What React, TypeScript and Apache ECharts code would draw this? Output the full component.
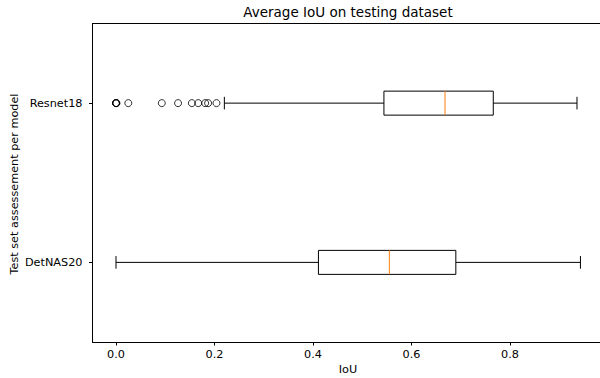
import React, { useEffect, useRef } from "react";
import * as echarts from "echarts";

const categories = ["DetNAS20", "Resnet18"];
// [min whisker, q1, median, q3, max whisker] per category (same order as categories)
const boxStats = [
  [0.0, 0.411, 0.555, 0.69, 0.943],
  [0.22, 0.544, 0.668, 0.766, 0.936],
];
const resnetOutliers = [0.0, 0.0, 0.0, 0.001, 0.025, 0.093, 0.126, 0.154, 0.167, 0.181, 0.187, 0.204];
const xTicks = [0, 0.2, 0.4, 0.6, 0.8];
const titleText = "Average IoU on testing dataset";
const xName = "IoU";
const yName = "Test set assessement per model";

const FONT = "DejaVu Sans";
const X_MIN = -0.0477;
const X_MAX = 0.9827;

export default function App() {
  const ref = useRef<HTMLDivElement>(null);
  useEffect(() => {
    document.body.style.margin = "0";
    const chart = echarts.init(ref.current!, null, { renderer: "svg" });
    const boxData = boxStats.map((s, i) => [i, ...s]);
    const outlierData = resnetOutliers.map((v) => [v, 1]);
    const frameLine = { show: true, onZero: false, lineStyle: { color: "#000", width: 1 } };
    chart.setOption({
      animation: false,
      backgroundColor: "#fff",
      textStyle: { fontFamily: FONT },
      grid: { left: 92.5, top: 23.5, right: 0, bottom: 36 },
      graphic: [
        {
          type: "text",
          x: 348,
          y: 12,
          style: {
            text: titleText,
            font: `13.5px ${FONT}`,
            fill: "#000",
            align: "center",
            verticalAlign: "middle",
          },
        },
        {
          type: "text",
          x: 348,
          y: 369.5,
          style: {
            text: xName,
            font: `11.25px ${FONT}`,
            fill: "#000",
            align: "center",
            verticalAlign: "middle",
          },
        },
        {
          type: "text",
          x: 14.5,
          y: 184,
          rotation: Math.PI / 2,
          style: {
            text: yName,
            font: `11.25px ${FONT}`,
            fill: "#000",
            align: "center",
            verticalAlign: "middle",
          },
        },
      ],
      xAxis: [
        {
          type: "value",
          position: "bottom",
          min: X_MIN,
          max: X_MAX,
          axisLine: frameLine,
          splitLine: { show: false },
          axisTick: {
            show: true,
            inside: false,
            length: 3.5,
            customValues: xTicks,
            lineStyle: { color: "#000", width: 1 },
          },
          axisLabel: {
            customValues: xTicks,
            formatter: (v: number) => v.toFixed(1),
            color: "#000",
            fontSize: 11.25,
            fontFamily: FONT,
            margin: 7,
          },
        },
        {
          type: "value",
          position: "top",
          min: X_MIN,
          max: X_MAX,
          axisLine: frameLine,
          splitLine: { show: false },
          axisTick: { show: false },
          axisLabel: { show: false },
        },
      ],
      yAxis: {
        type: "category",
        position: "left",
        data: categories,
        boundaryGap: true,
        axisLine: frameLine,
        splitLine: { show: false },
        axisTick: {
          show: true,
          alignWithLabel: true,
          length: 3.5,
          lineStyle: { color: "#000", width: 1 },
        },
        axisLabel: {
          color: "#000",
          fontSize: 11.25,
          fontFamily: FONT,
          margin: 10,
        },
      },
      series: [
        {
          type: "custom",
          xAxisIndex: 0,
          data: boxData,
          encode: { x: [1, 2, 3, 4, 5], y: 0 },
          renderItem: (params: any, api: any) => {
            const cat = api.value(0);
            const lo = api.coord([api.value(1), cat]);
            const q1 = api.coord([api.value(2), cat]);
            const med = api.coord([api.value(3), cat]);
            const q3 = api.coord([api.value(4), cat]);
            const hi = api.coord([api.value(5), cat]);
            const cy = lo[1];
            const hb = 12;
            const hc = 6.3;
            const stroke = { stroke: "#000", lineWidth: 1, fill: "none" };
            return {
              type: "group",
              children: [
                { type: "line", shape: { x1: lo[0], y1: cy, x2: q1[0], y2: cy }, style: stroke },
                { type: "line", shape: { x1: q3[0], y1: cy, x2: hi[0], y2: cy }, style: stroke },
                { type: "line", shape: { x1: lo[0], y1: cy - hc, x2: lo[0], y2: cy + hc }, style: stroke },
                { type: "line", shape: { x1: hi[0], y1: cy - hc, x2: hi[0], y2: cy + hc }, style: stroke },
                {
                  type: "rect",
                  shape: { x: q1[0], y: cy - hb, width: q3[0] - q1[0], height: 2 * hb },
                  style: stroke,
                },
                {
                  type: "line",
                  shape: { x1: med[0], y1: cy - hb, x2: med[0], y2: cy + hb },
                  style: { stroke: "#ff7f0e", lineWidth: 1 },
                },
              ],
            };
          },
        },
        {
          type: "scatter",
          xAxisIndex: 0,
          data: outlierData,
          symbol: "circle",
          symbolSize: 7,
          itemStyle: { color: "rgba(0,0,0,0)", borderColor: "#000", borderWidth: 1 },
        },
      ],
    });
    return () => chart.dispose();
  }, []);
  return (
    <div
      ref={ref}
      style={{ position: "absolute", left: 0, top: 0, width: 600, height: 378 }}
    />
  );
}
